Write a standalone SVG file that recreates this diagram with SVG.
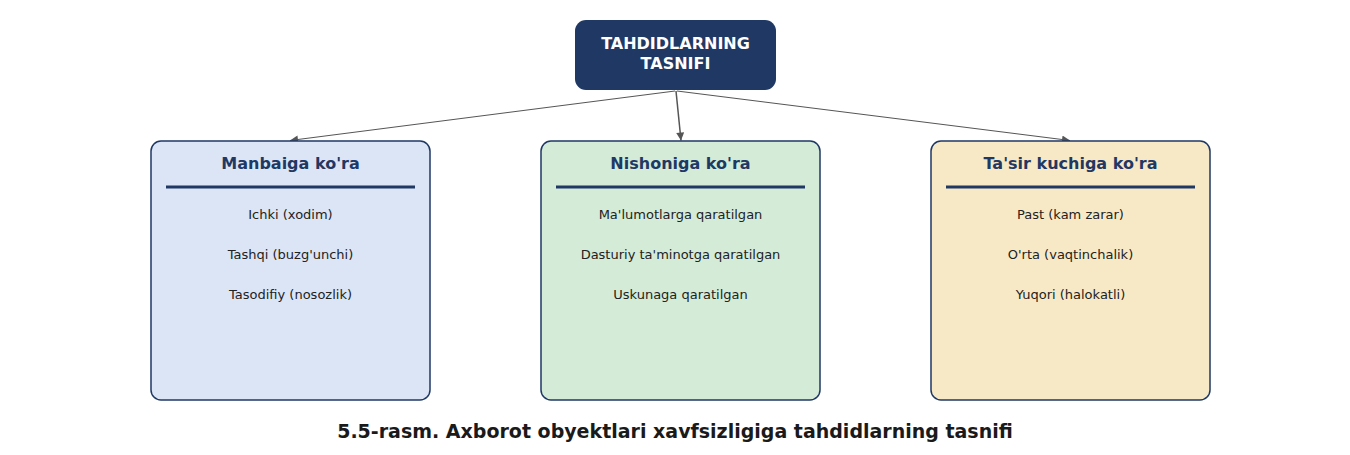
<svg xmlns="http://www.w3.org/2000/svg" width="1350" height="455" viewBox="0 0 1350 455">
<style>
.root{fill:#1f3864}
.rt{font-family:"DejaVu Sans",sans-serif;font-weight:bold;font-size:16px;fill:#fff;text-anchor:middle}
.box{stroke:#1f3864;stroke-width:1.5}
.hd{font-family:"DejaVu Sans",sans-serif;font-weight:bold;font-size:16px;fill:#1f3864;text-anchor:middle}
.sep{stroke:#1f3864;stroke-width:3}
.it{font-family:"DejaVu Sans",sans-serif;font-size:13px;fill:#222;text-anchor:middle}
.cn{stroke:#555;fill:none}
.cap{font-family:"DejaVu Sans",sans-serif;font-weight:bold;font-size:19px;fill:#1a1a1a;text-anchor:middle}
</style>
<defs>
<marker id="ah" viewBox="0 0 10 10" refX="10" refY="5" markerWidth="10" markerHeight="8" markerUnits="userSpaceOnUse" orient="auto">
<path d="M0,0 L10,5 L0,10 z" fill="#555"/>
</marker>
</defs>
<rect width="1350" height="455" fill="#fff"/>
<g id="connectors">
<line class="cn" x1="675" y1="91" x2="290" y2="140.5" stroke-width="1" marker-end="url(#ah)"/>
<line class="cn" x1="676" y1="91" x2="681" y2="140.5" stroke-width="1.5" marker-end="url(#ah)"/>
<line class="cn" x1="677" y1="91" x2="1070" y2="140.5" stroke-width="1" marker-end="url(#ah)"/>
</g>
<g id="root">
<rect class="root" x="575" y="20" width="201" height="70" rx="11"/>
<text class="rt" x="675.5" y="49">TAHDIDLARNING</text>
<text class="rt" x="675.5" y="69">TASNIFI</text>
</g>
<g id="manbaiga">
<rect class="box" x="151" y="141" width="279" height="259" rx="10" fill="#dce5f5"/>
<text class="hd" x="290.5" y="169">Manbaiga ko'ra</text>
<line class="sep" x1="166" y1="187" x2="415" y2="187"/>
<text class="it" x="290.5" y="219">Ichki (xodim)</text>
<text class="it" x="290.5" y="259">Tashqi (buzg'unchi)</text>
<text class="it" x="290.5" y="299">Tasodifiy (nosozlik)</text>
</g>
<g id="nishoniga">
<rect class="box" x="541" y="141" width="279" height="259" rx="10" fill="#d4ebd8"/>
<text class="hd" x="680.5" y="169">Nishoniga ko'ra</text>
<line class="sep" x1="556" y1="187" x2="805" y2="187"/>
<text class="it" x="680.5" y="219">Ma'lumotlarga qaratilgan</text>
<text class="it" x="680.5" y="259">Dasturiy ta'minotga qaratilgan</text>
<text class="it" x="680.5" y="299">Uskunaga qaratilgan</text>
</g>
<g id="tasir">
<rect class="box" x="931" y="141" width="279" height="259" rx="10" fill="#f8e9c6"/>
<text class="hd" x="1070.5" y="169">Ta'sir kuchiga ko'ra</text>
<line class="sep" x1="946" y1="187" x2="1195" y2="187"/>
<text class="it" x="1070.5" y="219">Past (kam zarar)</text>
<text class="it" x="1070.5" y="259">O'rta (vaqtinchalik)</text>
<text class="it" x="1070.5" y="299">Yuqori (halokatli)</text>
</g>
<text class="cap" x="675" y="438">5.5-rasm. Axborot obyektlari xavfsizligiga tahdidlarning tasnifi</text>
</svg>
